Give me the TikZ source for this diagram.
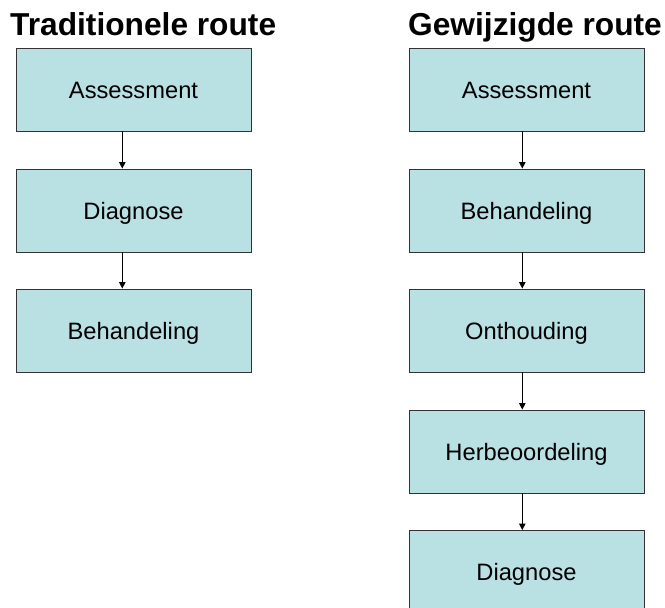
\documentclass[tikz,border=0pt]{standalone}
\usepackage{fontspec}
\setmainfont{Liberation Sans}
\definecolor{boxfill}{HTML}{B9E0E3}
\definecolor{boxline}{HTML}{333333}
\usetikzlibrary{arrows.meta, positioning}

\begin{document}
\begin{tikzpicture}[
						x=1pt, y=-1pt,
						box/.style={draw=boxline, fill=boxfill, text=black, minimum width=235pt, minimum height=83pt, line width=0.9pt, inner sep=0pt, text height=17pt, text depth=0pt, font=\fontsize{23.7}{28}\selectfont},
						arrow/.style={-{Triangle[width=6.5pt,length=6.5pt]}, line width=0.9pt, color=black},
						title/.style={anchor=base west, inner sep=0pt, font=\fontsize{31.7}{38}\selectfont\bfseries}
					]
					\useasboundingbox (0,0) rectangle (665,608);

					\node[title] (tradtitle) at (10,35.5) {Traditionele route};
					\node[title] (newtitle) at (408,35.5) {Gewijzigde route};

					\node[box] (ta) at (133.5,89.5) {Assessment};
					\node[box] (td) at (133.5,210.5) {Diagnose};
					\node[box] (tb) at (133.5,330.5) {Behandeling};

					\node[box] (na) at (526.5,89.5) {Assessment};
					\node[box] (nb) at (526.5,210.5) {Behandeling};
					\node[box] (no) at (526.5,330.5) {Onthouding};
					\node[box] (nh) at (526.5,451.5) {Herbeoordeling};
					\node[box] (nd) at (526.5,572) {Diagnose};

					\draw[arrow] ([xshift=-11.2pt]ta.south) -- ([xshift=-11.2pt]td.north);
					\draw[arrow] ([xshift=-11.2pt]td.south) -- ([xshift=-11.2pt]tb.north);

					\draw[arrow] ([xshift=-4.2pt]na.south) -- ([xshift=-4.2pt]nb.north);
					\draw[arrow] ([xshift=-4.2pt]nb.south) -- ([xshift=-4.2pt]no.north);
					\draw[arrow] ([xshift=-4.2pt]no.south) -- ([xshift=-4.2pt]nh.north);
					\draw[arrow] ([xshift=-4.2pt]nh.south) -- ([xshift=-4.2pt]nd.north);
				\end{tikzpicture}
\end{document}
